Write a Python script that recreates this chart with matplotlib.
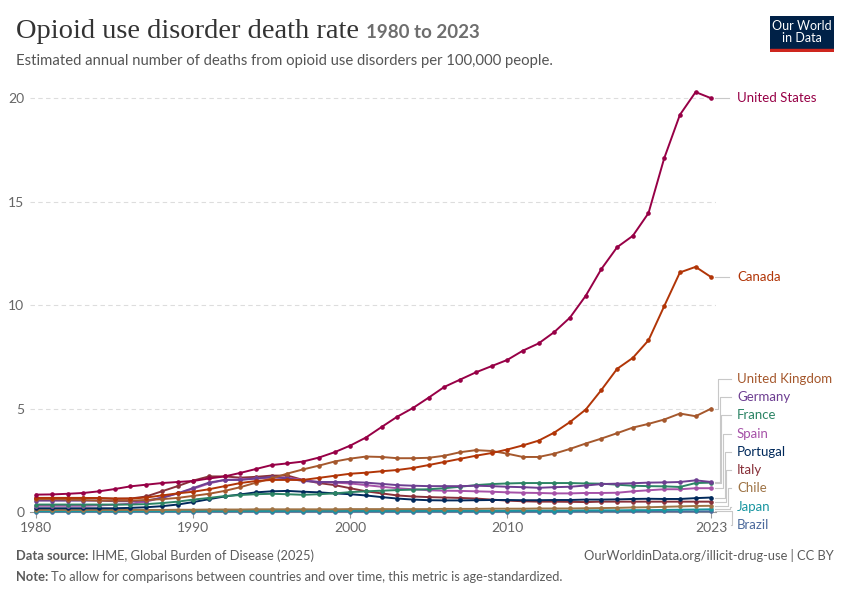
import matplotlib
matplotlib.use("Agg")
from matplotlib import pyplot as plt
import matplotlib.patches as mpatches

years = list(range(1980, 2024))

united_states = [0.84, 0.85, 0.88, 0.92, 1.0, 1.11, 1.24, 1.32, 1.4, 1.45,
                 1.5, 1.62, 1.72, 1.89, 2.08, 2.27, 2.35, 2.44, 2.63, 2.89,
                 3.21, 3.6, 4.11, 4.61, 5.03, 5.53, 6.05, 6.4, 6.75, 7.05,
                 7.35, 7.8, 8.15, 8.7, 9.4, 10.45, 11.75, 12.8, 13.35, 14.45,
                 17.1, 19.2, 20.3, 20.0]
canada = [0.68, 0.68, 0.68, 0.68, 0.67, 0.65, 0.65, 0.7, 0.8, 0.9,
          0.98, 1.1, 1.25, 1.4, 1.5, 1.55, 1.55, 1.55, 1.65, 1.75,
          1.85, 1.9, 1.97, 2.03, 2.13, 2.27, 2.42, 2.57, 2.72, 2.85,
          3.02, 3.22, 3.45, 3.84, 4.35, 4.95, 5.9, 6.92, 7.45, 8.3,
          9.95, 11.58, 11.85, 11.35]
united_kingdom = [0.62, 0.62, 0.6, 0.58, 0.55, 0.55, 0.55, 0.58, 0.62, 0.68,
                  0.78, 0.88, 1.02, 1.2, 1.42, 1.62, 1.86, 2.06, 2.24, 2.44,
                  2.58, 2.68, 2.66, 2.6, 2.6, 2.62, 2.72, 2.89, 2.99, 2.95,
                  2.82, 2.66, 2.66, 2.82, 3.05, 3.31, 3.55, 3.81, 4.08, 4.26,
                  4.47, 4.76, 4.63, 5.0]
germany = [0.55, 0.55, 0.55, 0.55, 0.55, 0.52, 0.52, 0.55, 0.68, 0.9,
           1.16, 1.42, 1.55, 1.55, 1.62, 1.7, 1.62, 1.5, 1.45, 1.45,
           1.45, 1.42, 1.36, 1.3, 1.27, 1.25, 1.25, 1.25, 1.27, 1.25,
           1.22, 1.2, 1.17, 1.2, 1.22, 1.28, 1.35, 1.37, 1.39, 1.42,
           1.43, 1.45, 1.53, 1.45]
france = [0.36, 0.36, 0.36, 0.36, 0.36, 0.36, 0.36, 0.38, 0.43, 0.5,
          0.6, 0.68, 0.77, 0.82, 0.86, 0.88, 0.86, 0.83, 0.86, 0.9,
          0.96, 1.0, 1.03, 1.06, 1.08, 1.1, 1.15, 1.22, 1.3, 1.35,
          1.38, 1.4, 1.4, 1.4, 1.4, 1.38, 1.37, 1.32, 1.27, 1.25,
          1.24, 1.21, 1.4, 1.42]
spain = [0.3, 0.3, 0.3, 0.3, 0.32, 0.35, 0.4, 0.5, 0.7, 0.9,
         1.12, 1.38, 1.55, 1.58, 1.62, 1.66, 1.66, 1.55, 1.45, 1.42,
         1.38, 1.3, 1.22, 1.15, 1.1, 1.05, 1.03, 1.02, 1.0, 0.98,
         0.95, 0.93, 0.92, 0.9, 0.9, 0.92, 0.92, 0.93, 1.0, 1.05,
         1.1, 1.1, 1.15, 1.15]
portugal = [0.18, 0.18, 0.18, 0.18, 0.18, 0.18, 0.2, 0.23, 0.28, 0.36,
            0.48, 0.62, 0.75, 0.85, 0.95, 1.0, 1.02, 0.98, 0.95, 0.9,
            0.86, 0.8, 0.72, 0.65, 0.6, 0.57, 0.56, 0.56, 0.57, 0.58,
            0.58, 0.57, 0.57, 0.58, 0.58, 0.6, 0.6, 0.61, 0.63, 0.64,
            0.63, 0.63, 0.67, 0.7]
italy = [0.68, 0.68, 0.68, 0.68, 0.67, 0.64, 0.65, 0.75, 1.0, 1.25,
         1.52, 1.72, 1.72, 1.66, 1.7, 1.76, 1.76, 1.55, 1.4, 1.3,
         1.15, 1.0, 0.9, 0.8, 0.75, 0.72, 0.7, 0.68, 0.65, 0.6,
         0.55, 0.52, 0.5, 0.5, 0.49, 0.48, 0.5, 0.5, 0.5, 0.5,
         0.5, 0.5, 0.5, 0.5]
chile = [0.1, 0.1, 0.1, 0.1, 0.1, 0.1, 0.1, 0.1, 0.1, 0.11,
         0.11, 0.12, 0.12, 0.12, 0.13, 0.13, 0.13, 0.13, 0.13, 0.13,
         0.14, 0.14, 0.14, 0.14, 0.14, 0.14, 0.15, 0.15, 0.15, 0.16,
         0.16, 0.16, 0.17, 0.17, 0.17, 0.18, 0.19, 0.2, 0.22, 0.23,
         0.25, 0.27, 0.29, 0.3]
japan = [0.04, 0.04, 0.04, 0.04, 0.04, 0.04, 0.04, 0.04, 0.04, 0.04,
         0.05, 0.05, 0.05, 0.05, 0.05, 0.05, 0.06, 0.06, 0.06, 0.06,
         0.06, 0.06, 0.06, 0.06, 0.06, 0.06, 0.06, 0.06, 0.06, 0.06,
         0.06, 0.07, 0.07, 0.07, 0.07, 0.08, 0.08, 0.08, 0.09, 0.09,
         0.1, 0.11, 0.12, 0.13]
brazil = [0.02] * 30 + [0.02, 0.02, 0.02, 0.02, 0.02, 0.03, 0.03, 0.03, 0.03, 0.03,
                        0.03, 0.03, 0.03, 0.03]

countries = ["United States", "Canada", "United Kingdom", "Germany", "France", "Spain",
             "Portugal", "Italy", "Chile", "Japan", "Brazil"]
series = [united_states, canada, united_kingdom, germany, france, spain,
          portugal, italy, chile, japan, brazil]
colors = ["#970046", "#B13507", "#A5582D", "#6D3E91", "#2C8465", "#A652A8",
          "#00295B", "#883039", "#9E7446", "#1996A1", "#4C6A9C"]

x_ticks = [1980, 1990, 2000, 2010, 2023]
y_ticks = [0, 5, 10, 15, 20]

plt.rcParams['font.family'] = ['Lato', 'DejaVu Sans']

W, H = 850, 600
fig = plt.figure(figsize=(W / 100, H / 100), dpi=100)
ax = fig.add_axes([30 / W, 88 / H, (716 - 30) / W, (512 - 90) / H])
ax.set_xlim(1979.6, 2023.3)
ax.set_ylim(0, 20.4)

# draw lowest series first so the top ones sit above
for name, vals, c in reversed(list(zip(countries, series, colors))):
    ax.plot(years, vals, color=c, lw=1.4, marker="o", ms=2.3, zorder=3, clip_on=False)

for s in ["top", "right", "left"]:
    ax.spines[s].set_visible(False)
ax.spines["bottom"].set_color("#999999")
ax.spines["bottom"].set_linewidth(0.8)
ax.set_yticks(y_ticks)
ax.set_yticklabels([str(v) for v in y_ticks])
ax.set_xticks(x_ticks)
ax.set_xticklabels([str(v) for v in x_ticks])
ax.tick_params(axis="y", length=0, labelsize=10, labelcolor="#666666", pad=4)
ax.tick_params(axis="x", length=4, color="#999999", labelsize=10, labelcolor="#666666", pad=3)
for v in y_ticks[1:]:
    ax.axhline(v, color="#dddddd", lw=0.8, ls=(0, (4, 3)), zorder=1)

inv = ax.transData.inverted()


def px(xp, yp):
    return inv.transform((xp, H - yp))


# end labels, pixel positions from top
label_y = [98, 277, 379, 397, 415, 434, 452, 470, 488, 507, 525]
text_x = 737
for i, (name, vals, c) in enumerate(zip(countries, series, colors)):
    tx, ty = px(text_x, label_y[i])
    ax.text(tx, ty, name, color=c, fontsize=9.5, va="center", ha="left", clip_on=False)
    end_px = ax.transData.transform((2023, vals[-1]))
    x0 = end_px[0] + 4
    x2 = 731
    if i < 2:
        xs = [x0, x2 - 2]
        ys = [H - end_px[1], H - end_px[1]]
    else:
        xv = 718 + (i - 2) * 1.7
        xs = [x0, xv, xv, x2]
        ys = [H - end_px[1], H - end_px[1], label_y[i], label_y[i]]
    pts = [px(a, b) for a, b in zip(xs, ys)]
    ax.plot([p[0] for p in pts], [p[1] for p in pts], color="#c8c8c8", lw=0.8,
            clip_on=False, zorder=2)

# header
title = fig.text(16 / W, 1 - 32 / H, "Opioid use disorder death rate", fontsize=20.5,
                 family=["Liberation Serif", "DejaVu Serif"], color="#333333", va="center")
fig.canvas.draw()
bb = title.get_window_extent()
fig.text((bb.x1 + 7) / W, 1 - 33 / H, "1980 to 2023", fontsize=13.5, color="#6e6e6e",
         va="center", weight="bold")
fig.text(16 / W, 1 - 61 / H,
         "Estimated annual number of deaths from opioid use disorders per 100,000 people.",
         fontsize=10.7, color="#555555", va="center")

# logo
ax_logo = fig.add_axes([770 / W, 1 - 52 / H, 64 / W, 36 / H])
ax_logo.set_axis_off()
ax_logo.add_patch(mpatches.Rectangle((0, 0), 1, 1, color="#002147", transform=ax_logo.transAxes))
ax_logo.add_patch(mpatches.Rectangle((0, 0), 1, 0.09, color="#ce261e", transform=ax_logo.transAxes))
ax_logo.text(0.5, 0.56, "Our World\nin Data", color="white", fontsize=9, ha="center", va="center",
             linespacing=1.0, transform=ax_logo.transAxes)

# footer
fs = 9.3
src = fig.text(16 / W, 1 - 556 / H, "Data source:", fontsize=fs, color="#5b5b5b",
               weight="bold", va="center")
note = fig.text(16 / W, 1 - 577 / H, "Note:", fontsize=fs, color="#5b5b5b",
                weight="bold", va="center")
fig.canvas.draw()
b1 = src.get_window_extent()
b2 = note.get_window_extent()
fig.text((b1.x1 + 3) / W, 1 - 556 / H, "IHME, Global Burden of Disease (2025)",
         fontsize=fs, color="#5b5b5b", va="center")
fig.text((b2.x1 + 3) / W, 1 - 577 / H,
         "To allow for comparisons between countries and over time, this metric is age-standardized.",
         fontsize=fs, color="#5b5b5b", va="center")
fig.text(834 / W, 1 - 556 / H, "OurWorldinData.org/illicit-drug-use | CC BY",
         fontsize=fs, color="#5b5b5b", va="center", ha="right")

fig.savefig("out.png", dpi=100)
